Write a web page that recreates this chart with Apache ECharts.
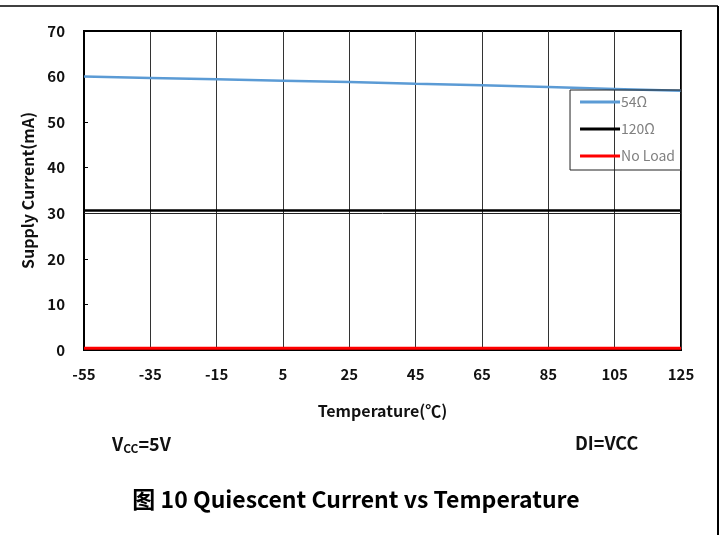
<!DOCTYPE html>
<html lang="en">
  <head>
    <meta charset="utf-8" />
    <title>Quiescent Current vs Temperature</title>
    <script src="https://cdn.jsdelivr.net/npm/echarts@6/dist/echarts.min.js"></script>
    <style>
      body { margin: 0; background: #fff; }
      #main { width: 726px; height: 535px; }
    </style>
  </head>
  <body>
    <div id="main"></div>
  <script>
    let temps = ['-55', '-35', '-15', '5', '25', '45', '65', '85', '105', '125'];
    let load54 = [60.0, 59.7, 59.4, 59.1, 58.8, 58.4, 58.1, 57.7, 57.3, 56.9];
    let load120 = [30.6, 30.6, 30.6, 30.6, 30.6, 30.6, 30.6, 30.6, 30.6, 30.6];
    let noLoad = [0.4, 0.4, 0.4, 0.4, 0.4, 0.4, 0.4, 0.4, 0.4, 0.4];
    let yTicks = [0, 10, 20, 30, 40, 50, 60, 70];

    let font = '"Noto Sans CJK SC", "Noto Sans", sans-serif';
    let main = echarts.init(document.getElementById('main'));
    let option = {
        animation: false,
        textStyle: { fontFamily: font },
        grid: {
            left: 84, right: 45, top: 31, bottom: 185,
            show: true, borderColor: '#000', borderWidth: 2
        },
        legend: {
            right: 45, top: 90,
            orient: 'vertical',
            itemWidth: 40, itemHeight: 3, itemGap: 13,
            padding: [5, 6, 7, 10],
            borderColor: '#222', borderWidth: 1,
            icon: 'rect',
            textStyle: { color: '#808080', fontSize: 14, lineHeight: 14, fontFamily: font, padding: [0, 0, 0, -4] },
            data: ['54Ω', '120Ω', 'No Load']
        },
        xAxis: {
            type: 'category',
            data: temps,
            boundaryGap: false,
            name: 'Temperature(℃)',
            nameLocation: 'middle',
            nameGap: 53,
            nameTextStyle: { color: '#111', fontSize: 16, fontWeight: 'bold', fontFamily: font },
            axisLine: { lineStyle: { color: '#000', width: 2 } },
            axisTick: { show: false },
            axisLabel: { color: '#111', fontSize: 15, fontWeight: 'bold', margin: 17, fontFamily: font },
            splitLine: { show: true, lineStyle: { color: '#333', width: 1 } }
        },
        yAxis: {
            type: 'value',
            min: yTicks[0], max: yTicks[yTicks.length - 1], interval: 10,
            name: 'Supply Current(mA)',
            nameLocation: 'middle',
            nameGap: 43,
            nameTextStyle: { color: '#111', fontSize: 16, fontWeight: 'bold', fontFamily: font },
            axisLine: { show: true, lineStyle: { color: '#000', width: 2 } },
            axisTick: { show: true, inside: true, length: 4, lineStyle: { color: '#000' } },
            axisLabel: { color: '#111', fontSize: 15, fontWeight: 'bold', margin: 19, fontFamily: font },
            splitLine: { show: false }
        },
        series: [
            {
                name: '54Ω', type: 'line', data: load54, symbol: 'none',
                lineStyle: { color: '#5b9bd5', width: 2.5 }, itemStyle: { color: '#5b9bd5' }
            },
            {
                name: '120Ω', type: 'line', data: load120, symbol: 'none',
                lineStyle: { color: '#000', width: 2.5 }, itemStyle: { color: '#000' },
                markLine: {
                    silent: true, symbol: 'none', label: { show: false },
                    lineStyle: { color: '#222', width: 1, type: 'solid' },
                    data: [{ yAxis: 30 }]
                }
            },
            {
                name: 'No Load', type: 'line', data: noLoad, symbol: 'none',
                lineStyle: { color: '#ff0000', width: 3 }, itemStyle: { color: '#ff0000' }
            }
        ],
        graphic: [
            { type: 'line', shape: { x1: 0, y1: 6, x2: 718, y2: 6 }, style: { stroke: '#000', lineWidth: 1.5 } },
            { type: 'line', shape: { x1: 718, y1: 6, x2: 718, y2: 535 }, style: { stroke: '#000', lineWidth: 2 } },
            {
                type: 'text', x: 112, y: 434,
                style: {
                    text: '{b|V}{s|CC}{b|=5V}',
                    rich: {
                        b: { fontSize: 18, fontWeight: 'bold', fill: '#111', fontFamily: font },
                        s: { fontSize: 12, fontWeight: 'bold', fill: '#111', fontFamily: font, padding: [8, 0, 0, 0] }
                    }
                }
            },
            {
                type: 'text', x: 575, y: 434,
                style: { text: 'DI=VCC', fontSize: 18, fontWeight: 'bold', fill: '#111', fontFamily: font }
            },
            {
                type: 'text', x: 356, y: 488,
                style: {
                    text: '图 10 Quiescent Current vs Temperature',
                    align: 'center',
                    fontSize: 23, fontWeight: 'bold', fill: '#000', fontFamily: font
                }
            }
        ]
    };
    main.setOption(option);
  </script>
  </body>
</html>
